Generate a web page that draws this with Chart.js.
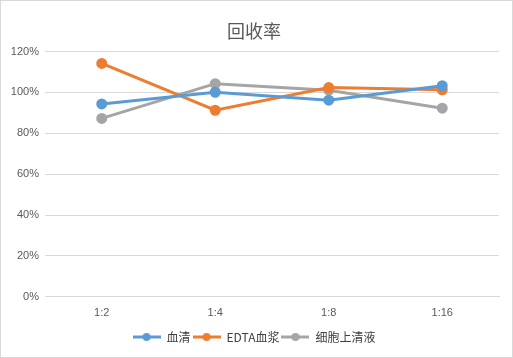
<!DOCTYPE html>
<html>
<head>
<meta charset="utf-8">
<script src="https://cdn.jsdelivr.net/npm/chart.js@4/dist/chart.umd.min.js"></script>
<style>
  body { margin: 0; background: #fff; }
  #box { width: 513px; height: 358px; box-sizing: border-box; border: 1px solid #d9d9d9; }
</style>
</head>
<body>
<div id="box"><canvas id="chart" width="511" height="356"></canvas></div>
<script>
const labels = ['1:2', '1:4', '1:8', '1:16'];
const serum = [94.4, 100.1, 96.2, 103.3];
const edtaPlasma = [114.2, 91.3, 102.4, 101.3];
const supernatant = [87.3, 104.3, 101.1, 92.3];
const yTicks = [0, 20, 40, 60, 80, 100, 120];

const grey = '#595959';
const gridColor = '#d9d9d9';

// legend icon: short line with a dot in the middle
function legendIcon(color) {
  const c = document.createElement('canvas');
  c.width = 28;
  c.height = 10;
  const ctx = c.getContext('2d');
  ctx.strokeStyle = color;
  ctx.lineWidth = 3;
  ctx.beginPath();
  ctx.moveTo(0, 5);
  ctx.lineTo(28, 5);
  ctx.stroke();
  ctx.fillStyle = color;
  ctx.beginPath();
  ctx.arc(14, 5, 4, 0, Math.PI * 2);
  ctx.fill();
  return c;
}

function series(label, data, color) {
  return {
    label,
    data,
    borderColor: color,
    backgroundColor: color,
    borderWidth: 3,
    pointRadius: 4,
    pointHoverRadius: 4,
    pointStyle: 'circle',
    tension: 0,
    legendIcon: legendIcon(color)
  };
}

new Chart(document.getElementById('chart'), {
  type: 'line',
  data: {
    labels,
    datasets: [
      series('血清', serum, '#5B9BD5'),
      series('EDTA血浆', edtaPlasma, '#ED7D31'),
      series('细胞上清液', supernatant, '#A5A5A5')
    ]
  },
  options: {
    responsive: false,
    animation: false,
    layout: { padding: { left: 8, right: 13, top: 19, bottom: 4 } },
    plugins: {
      title: {
        display: true,
        text: '回收率',
        color: grey,
        font: { family: '"Noto Sans CJK SC", sans-serif', size: 18, weight: 'normal' },
        padding: { top: 0, bottom: 10 }
      },
      legend: {
        position: 'bottom',
        labels: {
          color: '#404040',
          font: { family: '"Noto Sans CJK SC", sans-serif', size: 12 },
          usePointStyle: true,
          pointStyleWidth: 28,
          boxWidth: 28,
          padding: 2,
          generateLabels(chart) {
            return chart.data.datasets.map((ds, i) => ({
              text: ds.label,
              fontColor: '#404040',
              pointStyle: ds.legendIcon,
              datasetIndex: i,
              hidden: false,
              lineWidth: 0
            }));
          }
        }
      },
      tooltip: { enabled: false }
    },
    scales: {
      x: {
        offset: true,
        grid: { display: false },
        border: { display: true, color: gridColor },
        afterFit(scale) { scale.height += 7; },
        ticks: {
          color: grey,
          font: { family: '"Liberation Sans", sans-serif', size: 11 },
          padding: 2
        }
      },
      y: {
        min: 0,
        max: 120,
        afterBuildTicks(scale) {
          scale.ticks = yTicks.map(v => ({ value: v }));
        },
        afterFit(scale) { scale.width = 36; },
        grid: { color: gridColor, drawTicks: false },
        border: { display: false },
        ticks: {
          color: grey,
          font: { family: '"Liberation Sans", sans-serif', size: 11 },
          padding: 6,
          callback: v => v + '%'
        }
      }
    }
  }
});
</script>
</body>
</html>
